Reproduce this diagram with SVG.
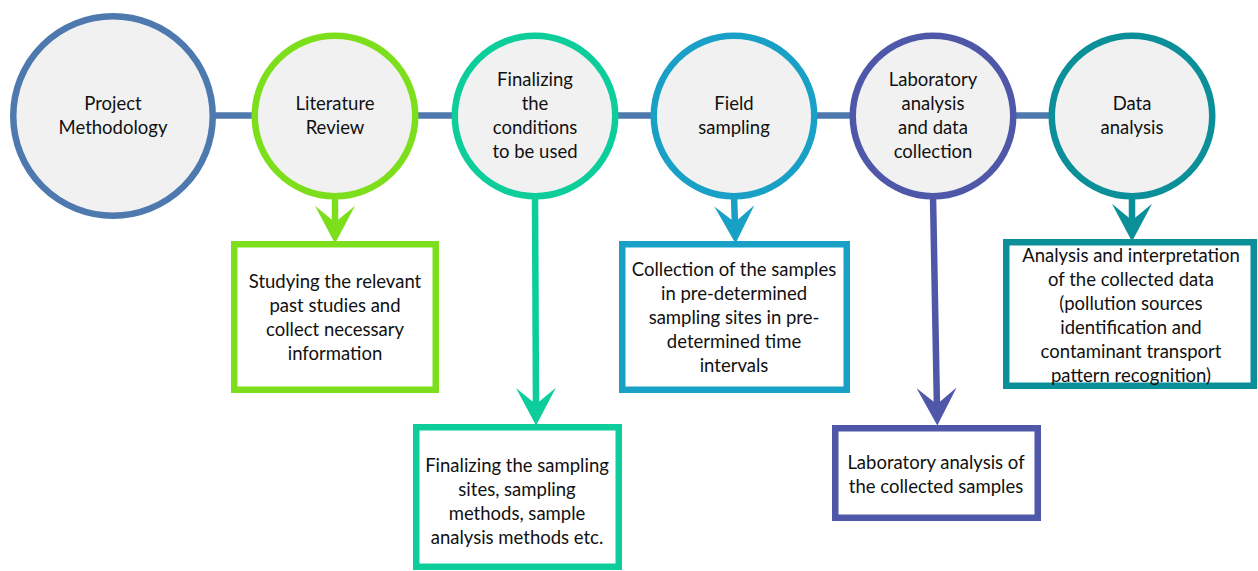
<svg xmlns="http://www.w3.org/2000/svg" width="1258" height="571" viewBox="0 0 1258 571">
<style>
text{font-family:Lato,"Liberation Sans",sans-serif;font-size:18.5px;fill:#111;text-anchor:middle}
.c{fill:#f1f1f1;stroke-width:6.5}
.b{fill:#fff;stroke-width:6.5}
.a{fill:none;stroke-width:6.5}
</style>
<defs>
<marker id="mg" markerUnits="userSpaceOnUse" markerWidth="40" markerHeight="40" viewBox="0 0 34 34" refX="18" refY="17" orient="auto"><path d="M0,0 L32,17 L0,34 L14,17 Z" fill="#7ddf1b"/></marker>
<marker id="mm" markerUnits="userSpaceOnUse" markerWidth="40" markerHeight="40" viewBox="0 0 34 34" refX="18" refY="17" orient="auto"><path d="M0,0 L32,17 L0,34 L14,17 Z" fill="#0dcd9b"/></marker>
<marker id="mb" markerUnits="userSpaceOnUse" markerWidth="40" markerHeight="40" viewBox="0 0 34 34" refX="18" refY="17" orient="auto"><path d="M0,0 L32,17 L0,34 L14,17 Z" fill="#18a0c6"/></marker>
<marker id="mi" markerUnits="userSpaceOnUse" markerWidth="40" markerHeight="40" viewBox="0 0 34 34" refX="18" refY="17" orient="auto"><path d="M0,0 L32,17 L0,34 L14,17 Z" fill="#4f57a9"/></marker>
<marker id="mt" markerUnits="userSpaceOnUse" markerWidth="40" markerHeight="40" viewBox="0 0 34 34" refX="18" refY="17" orient="auto"><path d="M0,0 L32,17 L0,34 L14,17 Z" fill="#0b8f99"/></marker>
</defs>
<g id="connectors">
<line x1="200" y1="115.5" x2="1060" y2="115.5" stroke="#4e79ae" stroke-width="6.5"/>
<line class="a" x1="335" y1="196" x2="335" y2="227" stroke="#7ddf1b" marker-end="url(#mg)"/>
<line class="a" x1="535" y1="196" x2="536" y2="409" stroke="#0dcd9b" marker-end="url(#mm)"/>
<line class="a" x1="734" y1="196" x2="735" y2="227" stroke="#18a0c6" marker-end="url(#mb)"/>
<line class="a" x1="933" y1="196" x2="937" y2="409" stroke="#4f57a9" marker-end="url(#mi)"/>
<line class="a" x1="1132" y1="196" x2="1132" y2="225" stroke="#0b8f99" marker-end="url(#mt)"/>
</g>
<g id="n-project"><circle class="c" cx="113" cy="116" r="99.75" stroke="#4e79ae"/><text x="113" y="110">Project</text><text x="113" y="134">Methodology</text></g>
<g id="n-literature"><circle class="c" cx="335" cy="116" r="80.25" stroke="#7ddf1b"/><text x="335" y="110">Literature</text><text x="335" y="134">Review</text></g>
<g id="n-finalizing"><circle class="c" cx="535" cy="116" r="80.25" stroke="#0dcd9b"/><text x="535" y="86">Finalizing</text><text x="535" y="110">the</text><text x="535" y="134">conditions</text><text x="535" y="158">to be used</text></g>
<g id="n-field"><circle class="c" cx="734" cy="116" r="80.25" stroke="#18a0c6"/><text x="734" y="110">Field</text><text x="734" y="134">sampling</text></g>
<g id="n-lab"><circle class="c" cx="933" cy="116" r="80.25" stroke="#4f57a9"/><text x="933" y="86">Laboratory</text><text x="933" y="110">analysis</text><text x="933" y="134">and data</text><text x="933" y="158">collection</text></g>
<g id="n-data"><circle class="c" cx="1132" cy="116" r="80.25" stroke="#0b8f99"/><text x="1132" y="110">Data</text><text x="1132" y="134">analysis</text></g>
<g id="b-literature"><rect class="b" x="234.25" y="244.25" width="201.5" height="145.5" stroke="#7ddf1b"/><text x="335" y="288">Studying the relevant</text><text x="335" y="312">past studies and</text><text x="335" y="336">collect necessary</text><text x="335" y="360">information</text></g>
<g id="b-finalizing"><rect class="b" x="416.25" y="427.25" width="202.5" height="139.5" stroke="#0dcd9b"/><text x="517" y="472">Finalizing the sampling</text><text x="517" y="496">sites, sampling</text><text x="517" y="520">methods, sample</text><text x="517" y="544">analysis methods etc.</text></g>
<g id="b-field"><rect class="b" x="622.25" y="244.25" width="224.5" height="145.5" stroke="#18a0c6"/><text x="734" y="276">Collection of the samples</text><text x="734" y="300">in pre-determined</text><text x="734" y="324">sampling sites in pre-</text><text x="734" y="348">determined time</text><text x="734" y="372">intervals</text></g>
<g id="b-lab"><rect class="b" x="835.25" y="428.25" width="202.5" height="89.5" stroke="#4f57a9"/><text x="936" y="469">Laboratory analysis of</text><text x="936" y="493">the collected samples</text></g>
<g id="b-data"><rect class="b" x="1006.25" y="242.25" width="247.5" height="143.5" stroke="#0b8f99"/><text x="1131" y="262">Analysis and interpretation</text><text x="1131" y="286">of the collected data</text><text x="1131" y="310">(pollution sources</text><text x="1131" y="334">identification and</text><text x="1131" y="358">contaminant transport</text><text x="1131" y="382">pattern recognition)</text></g>
</svg>
